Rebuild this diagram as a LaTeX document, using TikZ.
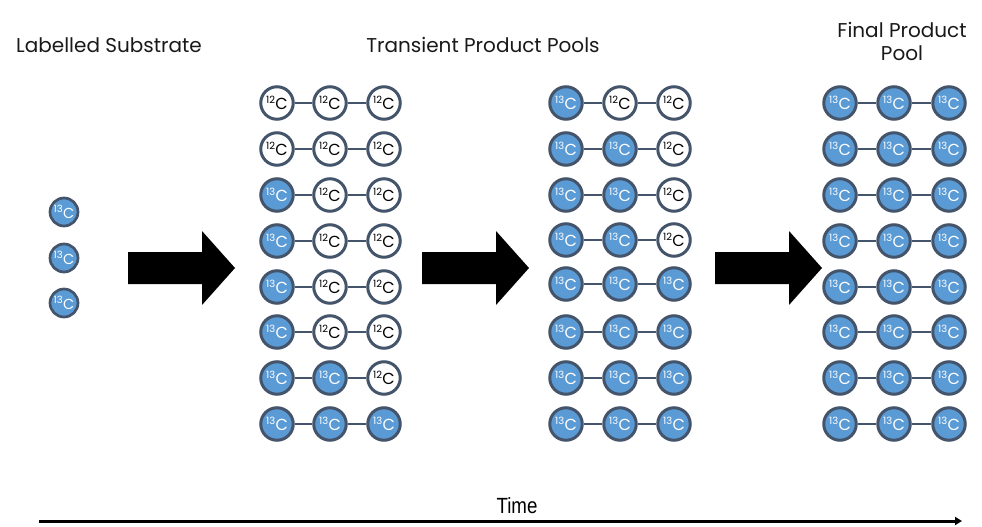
\documentclass[tikz,border=0pt]{standalone}
\usepackage{fontspec}
\setmainfont{Poppins}
\newfontfamily\timefont{Liberation Sans}
\usetikzlibrary{arrows.meta}
\definecolor{atomblue}{HTML}{5B9BD5}
\definecolor{atomedge}{HTML}{44546A}
% isotope label: mass number as a superscript before C
\newcommand{\nucl}[1]{\raisebox{0.40em}{\fontsize{10}{10}\selectfont #1}\kern0.3pt C}
\begin{document}
\begin{tikzpicture}[x=1pt,y=-1pt,
  atom/.style={circle, draw=atomedge, line width=3pt, minimum size=32.5pt,
    inner sep=0pt, font=\fontsize{16}{16}\selectfont},
  iso3/.style={atom, fill=atomblue, text=white},
  iso2/.style={atom, fill=white, text=black},
  small/.style={minimum size=28pt, line width=2.7pt, font=\fontsize{14.5}{14.5}\selectfont},
  bond/.style={draw=atomedge, line width=2.4pt},
  title/.style={font=\fontsize{20}{20}\selectfont, text=black!90},
  blockarrow/.pic={\fill[black] (0,-16) -- (74,-16) -- (74,-37) -- (107,0)
    -- (74,37) -- (74,16) -- (0,16) -- cycle;}]
\useasboundingbox (0,0) rectangle (982,527);

% headings
\node[title] (hsub) at (109,45) {Labelled Substrate};
\node[title] (htrans) at (483,45) {Transient Product Pools};
\node[title, align=center] (hfinal) at (902,41) {Final Product\\[3pt]Pool};

% labelled substrate
\foreach \y [count=\i] in {212,258,303}
  \node[iso3, small] (s\i) at (64,\y) {\nucl{13}};

% first transient pool
\foreach \y/\p/\q/\r [count=\i] in {103/2/2/2, 149/2/2/2, 195/3/2/2, 241/3/2/2,
    287/3/2/2, 332/3/2/2, 378/3/3/2, 424/3/3/3} {
  \node[iso\p] (a\i-1) at (277,\y) {\nucl{1\p}};
  \node[iso\q] (a\i-2) at (330,\y) {\nucl{1\q}};
  \node[iso\r] (a\i-3) at (384,\y) {\nucl{1\r}};
  \draw[bond] (a\i-1) -- (a\i-2) (a\i-2) -- (a\i-3);
}

% second transient pool
\foreach \y/\p/\q/\r [count=\i] in {103/3/2/2, 149/3/3/2, 195/3/3/2, 240/3/3/2,
    284/3/3/3, 332/3/3/3, 378/3/3/3, 424/3/3/3} {
  \node[iso\p] (b\i-1) at (566,\y) {\nucl{1\p}};
  \node[iso\q] (b\i-2) at (620,\y) {\nucl{1\q}};
  \node[iso\r] (b\i-3) at (674,\y) {\nucl{1\r}};
  \draw[bond] (b\i-1) -- (b\i-2) (b\i-2) -- (b\i-3);
}

% final product pool
\foreach \y [count=\i] in {103,149,195,241,287,332,378,424} {
  \node[iso3] (c\i-1) at (840,\y) {\nucl{13}};
  \node[iso3] (c\i-2) at (894,\y) {\nucl{13}};
  \node[iso3] (c\i-3) at (949,\y) {\nucl{13}};
  \draw[bond] (c\i-1) -- (c\i-2) (c\i-2) -- (c\i-3);
}

% transfer arrows
\pic (arr1) at (128,268) {blockarrow};
\pic (arr2) at (422,268) {blockarrow};
\pic (arr3) at (715,268) {blockarrow};

% time axis
\coordinate (t0) at (39,521);
\coordinate (t1) at (962,521);
\draw[line width=3pt, -{Triangle[length=7pt,width=8pt]}] (t0) -- (t1);
\node[font=\timefont\fontsize{22}{22}\selectfont, xscale=0.85] (time) at (517,506) {Time};
\end{tikzpicture}
\end{document}
